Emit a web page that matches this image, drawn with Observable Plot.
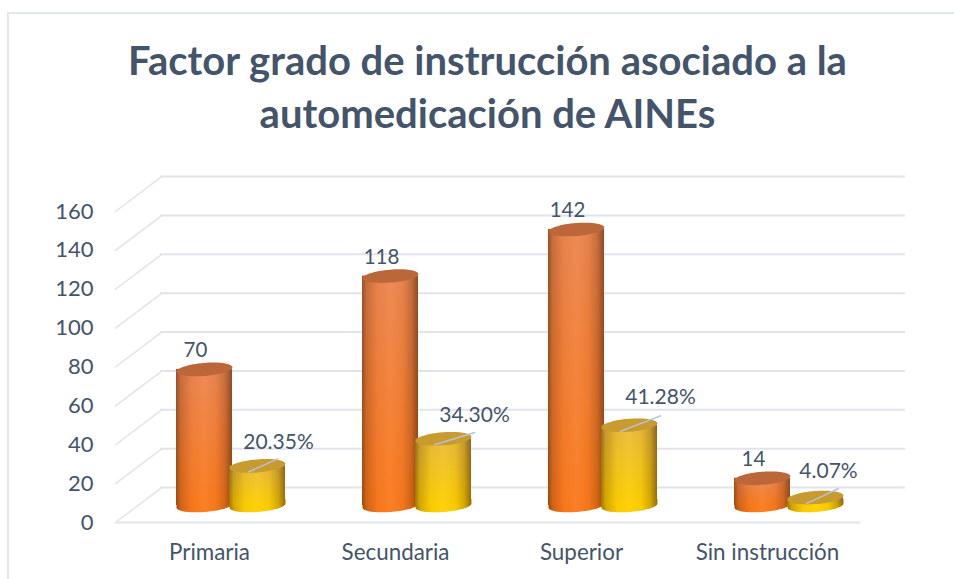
<!DOCTYPE html>
<html lang="es">
<head>
<meta charset="utf-8">
<script src="https://cdn.jsdelivr.net/npm/d3@7"></script>
<script src="https://cdn.jsdelivr.net/npm/@observablehq/plot@0.6"></script>
<style>
  html, body { margin: 0; padding: 0; background: #fff; }
  #page { position: relative; width: 954px; height: 579px; overflow: hidden; font-family: Lato, sans-serif; }
  #frame { position: absolute; left: 7px; top: 12px; width: 960px; height: 580px; border: 2px solid #E3E8EF; box-sizing: border-box; pointer-events: none; }
  #title { position: relative; box-sizing: border-box; height: 150px; padding: 34px 0 0 21px; margin: 0; text-align: center; white-space: nowrap;
           font: 700 40px/53px Lato, sans-serif; color: #44546A; }
  svg.plot, #chart svg { display: block; }
</style>
</head>
<body>
<div id="page">
  <div id="frame"></div>
  <h1 id="title">Factor grado de instrucción asociado a la<br>automedicación de AINEs</h1>
  <div id="chart"></div>
</div>
<script>
const categories = ["Primaria", "Secundaria", "Superior", "Sin instrucción"];
const counts = [70, 118, 142, 14];
const percents = [20.35, 34.30, 41.28, 4.07];
const yTicks = [0, 20, 40, 60, 80, 100, 120, 140, 160];

// Style: the oblique depth of the drawing
const textColor = "#44546A";
const gridColor = "#E1E4EC";
const depth = {dx: 45, dy: -35};
const base = {dy: -17};
const orangeDx = -5;
const yellowDx = 48;
const capRx = 28, capRy = 6.5, capTilt = -4.5 * Math.PI / 180;

const countRows = categories.map((c, i) => ({category: c, value: counts[i]}));
const percentRows = categories.map((c, i) => ({category: c, value: percents[i]}));

// Tilted ellipses drawn as Plot symbols
const K = 0.5522847;
const tilt = (x, y) => {
  const cos = Math.cos(capTilt), sin = Math.sin(capTilt);
  return [x * cos - y * sin, x * sin + y * cos];
};
const ellipseSymbol = {
  draw(ctx) {
    const a = capRx, b = capRy, p = tilt;
    ctx.moveTo(...p(a, 0));
    ctx.bezierCurveTo(...p(a, K * b), ...p(K * a, b), ...p(0, b));
    ctx.bezierCurveTo(...p(-K * a, b), ...p(-a, K * b), ...p(-a, 0));
    ctx.bezierCurveTo(...p(-a, -K * b), ...p(-K * a, -b), ...p(0, -b));
    ctx.bezierCurveTo(...p(K * a, -b), ...p(a, -K * b), ...p(a, 0));
    ctx.closePath();
  }
};
// Lower half of the ellipse, closed upward so it joins the straight body
const baseSymbol = {
  draw(ctx) {
    const a = capRx, b = capRy, p = tilt;
    const [rx, ry] = p(a, 0), [lx] = p(-a, 0);
    ctx.moveTo(rx, ry);
    ctx.bezierCurveTo(...p(a, K * b), ...p(K * a, b), ...p(0, b));
    ctx.bezierCurveTo(...p(-K * a, b), ...p(-a, K * b), ...p(-a, 0));
    ctx.lineTo(lx, -b);
    ctx.lineTo(rx, -b);
    ctx.closePath();
  }
};
const lineShape = { draw(ctx, l) { ctx.moveTo(0, 0); ctx.lineTo(0, -l); } };

// Gradient definitions
const defs = () => {
  const svg = d3.create("svg:defs");
  const grad = (id, stops, vertical) => {
    const g = svg.append("linearGradient").attr("id", id)
      .attr("x1", 0).attr("y1", 0).attr("x2", vertical ? 0 : 1).attr("y2", vertical ? 1 : 0);
    stops.forEach(([o, c, a]) => g.append("stop").attr("offset", o).attr("stop-color", c).attr("stop-opacity", a ?? 1));
  };
  grad("orangeBody", [[0, "#EC8650"], [1, "#FB7A1C"]], true);
  grad("yellowBody", [[0, "#E9BC3A"], [1, "#FFD000"]], true);
  grad("orangeBase", [[0, "#FB7A1C"], [1, "#FB7A1C"]], true);
  grad("yellowBase", [[0, "#FFD000"], [1, "#FFD000"]], true);
  grad("shade", [
    [0, "#3a1500", 0.48], [0.08, "#3a1500", 0.22], [0.28, "#3a1500", 0.03], [0.50, "#ffffff", 0.04],
    [0.72, "#3a1500", 0.04], [0.88, "#3a1500", 0.22], [1, "#3a1500", 0.52]
  ], false);
  return svg.node();
};

// One cylinder series: base ellipse, body, shading, cap
const cylinder = (rows, dx, body, baseFill, cap) => {
  const inset = 65;
  const common = {x: "category", insetLeft: inset, insetRight: inset, dx, dy: base.dy};
  const dotCommon = {x: "category", r: 1, dx, stroke: "none"};
  return [
    Plot.dot(rows, {...dotCommon, symbol: baseSymbol, y: () => 0, dy: base.dy, fill: `url(#${baseFill})`}),
    Plot.dot(rows, {...dotCommon, symbol: baseSymbol, y: () => 0, dy: base.dy, fill: "url(#shade)"}),
    Plot.barY(rows, {...common, y: "value", fill: `url(#${body})`}),
    Plot.barY(rows, {...common, y: "value", fill: "url(#shade)"}),
    Plot.dot(rows, {...dotCommon, symbol: ellipseSymbol, y: "value", dy: base.dy, fill: cap})
  ];
};

// Per-label placement (style only)
const countLabel = {dx: -9, dy: -19};
const percentLabelOffsets = [[21, -24], [31, -24], [31, -28], [13, -26]];
const leaderTurn = [[32, 66], [42, 73], [43, 69], [35, 65]];

const yellowDxLeader = yellowDx - 9;

const chart = Plot.plot({
  width: 954,
  height: 429,
  marginTop: 61,
  marginBottom: 57,
  marginLeft: 115,
  marginRight: 94,
  style: {background: "transparent", overflow: "visible", fontFamily: "Lato, sans-serif"},
  x: {domain: categories, padding: 0, label: null, axis: null},
  y: {domain: [0, 160], ticks: yTicks, label: null, axis: null},
  marks: [
    defs,
    Plot.ruleY(yTicks, {stroke: gridColor, strokeWidth: 2, ...depth}),
    Plot.ruleY([0], {stroke: gridColor, strokeWidth: 2}),
    Plot.vector(yTicks, {y: d => d, frameAnchor: "left", length: 57, rotate: 53, anchor: "start",
      shape: lineShape, stroke: gridColor, strokeWidth: 1.5}),
    ...cylinder(countRows, orangeDx, "orangeBody", "orangeBase", "#BC673A"),
    ...cylinder(percentRows, yellowDx, "yellowBody", "yellowBase", "#C79B2E"),
    ...percentRows.map((row, i) => Plot.vector([row], {
      x: "category", y: "value", dx: yellowDxLeader, dy: base.dy + 6,
      length: leaderTurn[i][0], rotate: leaderTurn[i][1], anchor: "start", shape: lineShape,
      stroke: "#B4C3D6", strokeWidth: 1.5
    })),
    Plot.text(countRows, {x: "category", y: "value", text: d => String(d.value),
      dx: orangeDx + countLabel.dx, dy: base.dy + countLabel.dy, fontSize: 20.5, fill: textColor}),
    ...percentRows.map((row, i) => Plot.text([row], {
      x: "category", y: "value", text: d => d.value.toFixed(2) + "%",
      dx: yellowDx + percentLabelOffsets[i][0], dy: base.dy + percentLabelOffsets[i][1],
      fontSize: 21, fill: textColor
    })),
    Plot.axisY(yTicks, {anchor: "left", tickSize: 0, tickPadding: 22, label: null, fontSize: 22, color: textColor}),
    Plot.axisX(categories, {anchor: "bottom", tickSize: 0, tickPadding: 22, label: null, fontSize: 22.4, color: textColor})
  ]
});
document.getElementById("chart").appendChild(chart);
</script>
</body>
</html>
